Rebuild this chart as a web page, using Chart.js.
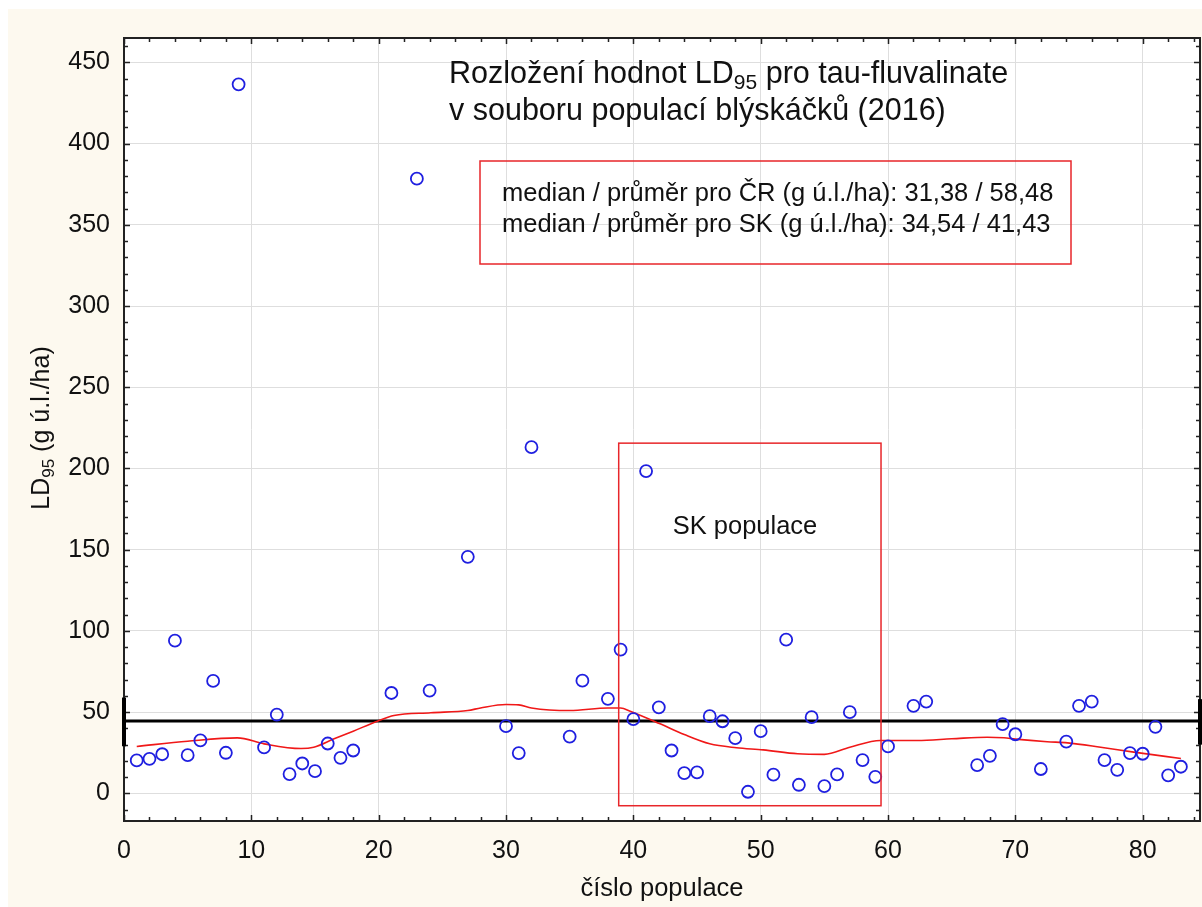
<!DOCTYPE html>
<html>
<head>
<meta charset="utf-8">
<script src="https://cdn.jsdelivr.net/npm/chart.js@4.4.0/dist/chart.umd.min.js"></script>
<style>
  html, body { margin: 0; padding: 0; background: #fff; overflow: hidden; }
  #wrap { position: absolute; left: 8px; top: 9px; width: 1194px; height: 898px; background: #fdf9ef; }
</style>
</head>
<body>
<div id="wrap"><canvas id="chart"></canvas></div>
<script>
// číslo populace / LD95 hodnoty
const populace = [1, 2, 3, 4, 5, 6, 7, 8, 9, 11, 12, 13, 14, 15, 16, 17, 18, 21, 23, 24, 27, 30, 31, 32, 35, 36, 38, 39, 40, 41,
  42, 43, 44, 45, 46, 47, 48, 49, 50, 51, 52, 53, 54, 55, 56, 57, 58, 59, 60, 62, 63, 67, 68, 69, 70, 72, 74, 75, 76, 77,
  78, 79, 80, 81, 82, 83];
const ld95 = [20.3, 21.3, 24.1, 94, 23.5, 32.6, 69.2, 25, 436.5, 28.3, 48.5, 11.9, 18.4, 13.7, 30.7, 21.9, 26.4, 61.8, 378.4, 63.3,
  145.6, 41.4, 24.8, 213.1, 35, 69.4, 58.2, 88.5, 45.7, 198.4, 53, 26.4, 12.5, 12.9, 47.5, 44.4, 34, 1, 38.3, 11.5,
  94.6, 5.3, 46.9, 4.5, 11.7, 50, 20.5, 10.2, 28.9, 53.9, 56.5, 17.4, 23.1, 42.6, 36.4, 15, 31.9, 53.9, 56.5, 20.5,
  14.5, 24.8, 24.4, 41, 11.1, 16.4];

// vyhlazená křivka (červená)
const trendX = [1, 5, 8.9, 11, 13.9, 14.9, 16.5, 18, 19.9, 21.2, 24.1, 27, 28, 30, 31, 32, 35, 38, 39, 39.8, 42.1, 44, 46,
  48.1, 50.2, 52.9, 55, 57, 59.4, 62.3, 65, 67.8, 69.1, 70, 72.5, 74.1, 76.7, 79.3, 83];
const trendY = [28.9, 32.1, 34.2, 30.5, 27.6, 28.4, 33.6, 38.3, 44.4, 47.9, 49.6, 51, 52.6, 54.7, 54.5, 52.6, 51, 52.6, 52.6,
  50.4, 42.8, 36.2, 30.5, 28.1, 26.8, 24.4, 24, 28.4, 32.6, 32.6, 33.6, 34.6, 34.2, 33.4, 31.8, 31.1, 28.4, 25.4, 21.5];

// průměr a rozptyl na okrajích
const prumer = 44.5;
const rozsahLevy = [29, 59];
const rozsahPravy = [30, 58];

// osy
const xRange = [0, 84.5];
const yRange = [-17, 465];
const xTicks = [0, 10, 20, 30, 40, 50, 60, 70, 80];
const yTicks = [0, 50, 100, 150, 200, 250, 300, 350, 400, 450];

// SK populace (obdélník v souřadnicích dat)
const skX = [38.85, 59.45];
const skY = [-7.6, 215.6];

const FONT = '"Liberation Sans", Arial, sans-serif';

/**
 * bílá plocha grafu, rámeček a ticky dovnitř
 */
const framePlugin = {
  id: 'framePlugin',
  beforeDraw(chart) {
    const { ctx, chartArea: a } = chart;
    ctx.save();
    ctx.fillStyle = '#fff';
    ctx.fillRect(a.left, a.top, a.right - a.left, a.bottom - a.top);
    ctx.restore();
  },
  beforeDatasetsDraw(chart) {
    const { ctx, chartArea: a, scales: { x, y } } = chart;
    ctx.save();
    ctx.strokeStyle = '#222';
    ctx.lineWidth = 1.5;
    for (let v = 0; v <= 84; v += 2) {
      const px = Math.round(x.getPixelForValue(v)) + 0.5;
      const len = v % 10 === 0 ? 6 : 4;
      ctx.beginPath();
      ctx.moveTo(px, a.bottom); ctx.lineTo(px, a.bottom - len);
      ctx.moveTo(px, a.top); ctx.lineTo(px, a.top + len);
      ctx.stroke();
    }
    for (let v = -10; v <= 460; v += 10) {
      const py = Math.round(y.getPixelForValue(v)) + 0.5;
      const len = v % 50 === 0 ? 6 : 4;
      ctx.beginPath();
      ctx.moveTo(a.left, py); ctx.lineTo(a.left + len, py);
      ctx.moveTo(a.right, py); ctx.lineTo(a.right - len, py);
      ctx.stroke();
    }
    ctx.lineWidth = 2;
    ctx.strokeRect(a.left, a.top, a.right - a.left, a.bottom - a.top);
    ctx.restore();
  }
};

function drawSub(ctx, parts, x, y, size) {
  // parts: [text, isSub]
  let cx = x;
  parts.forEach(([t, sub]) => {
    ctx.font = (sub ? Math.round(size * 0.68) : size) + 'px ' + FONT;
    ctx.fillText(t, cx, sub ? y + size * 0.28 : y);
    cx += ctx.measureText(t).width;
  });
}

/**
 * nadpis, popisky a červené rámečky
 */
const notesPlugin = {
  id: 'notesPlugin',
  afterDatasetsDraw(chart) {
    const { ctx, scales: { x, y } } = chart;
    ctx.save();
    ctx.fillStyle = '#111';
    ctx.textBaseline = 'middle';
    ctx.textAlign = 'left';

    drawSub(ctx, [['Rozložení hodnot LD', false], ['95', true], [' pro tau-fluvalinate', false]], 441, 66, 30.5);
    drawSub(ctx, [['v souboru populací blýskáčků (2016)', false]], 441, 103, 30.5);

    // rámeček se statistikami
    ctx.strokeStyle = '#e8262a';
    ctx.lineWidth = 1.5;
    ctx.strokeRect(472, 152, 591, 103);
    ctx.font = '25.5px ' + FONT;
    ctx.fillText('median / průměr pro ČR (g ú.l./ha): 31,38 / 58,48', 494, 185);
    ctx.fillText('median / průměr pro SK (g ú.l./ha): 34,54 / 41,43', 494, 216);

    // SK populace
    const l = x.getPixelForValue(skX[0]), r = x.getPixelForValue(skX[1]);
    const t = y.getPixelForValue(skY[1]), b = y.getPixelForValue(skY[0]);
    ctx.strokeRect(l, t, r - l, b - t);
    ctx.font = '25.5px ' + FONT;
    ctx.textAlign = 'center';
    ctx.fillText('SK populace', 737, 518);
    ctx.restore();
  },
  afterDraw(chart) {
    const { ctx } = chart;
    ctx.save();
    ctx.translate(34, 419);
    ctx.rotate(-Math.PI / 2);
    ctx.fillStyle = '#111';
    ctx.textBaseline = 'middle';
    ctx.font = '25px ' + FONT;
    const w = ctx.measureText('LD (g ú.l./ha)').width;
    ctx.font = '17px ' + FONT;
    const w2 = ctx.measureText('95').width;
    drawSub(ctx, [['LD', false], ['95', true], [' (g ú.l./ha)', false]], -(w + w2) / 2, 0, 25);
    ctx.restore();
  }
};

new Chart(document.getElementById('chart'), {
  type: 'scatter',
  data: {
    datasets: [
      {
        label: 'LD95',
        data: populace.map((p, i) => ({ x: p, y: ld95[i] })),
        pointStyle: 'circle',
        pointRadius: 6,
        borderColor: '#1f1fe0',
        backgroundColor: 'rgba(0,0,0,0)',
        borderWidth: 1.8,
        order: 1
      },
      {
        type: 'line',
        label: 'trend',
        data: trendX.map((p, i) => ({ x: p, y: trendY[i] })),
        borderColor: '#f01818',
        borderWidth: 1.6,
        pointRadius: 0,
        cubicInterpolationMode: 'monotone',
        order: 2
      },
      {
        type: 'line',
        label: 'průměr',
        data: [{ x: xRange[0], y: prumer }, { x: xRange[1], y: prumer }],
        borderColor: '#000',
        borderWidth: 3,
        pointRadius: 0,
        order: 3
      },
      {
        type: 'line',
        label: 'rozsah L',
        data: rozsahLevy.map(v => ({ x: xRange[0], y: v })),
        borderColor: '#000',
        borderWidth: 4,
        pointRadius: 0,
        clip: false,
        order: 3
      },
      {
        type: 'line',
        label: 'rozsah P',
        data: rozsahPravy.map(v => ({ x: xRange[1], y: v })),
        borderColor: '#000',
        borderWidth: 4,
        pointRadius: 0,
        clip: false,
        order: 3
      }
    ]
  },
  options: {
    responsive: true,
    maintainAspectRatio: false,
    animation: false,
    layout: { autoPadding: false, padding: { top: 28, right: 2, left: 0, bottom: 0 } },
    plugins: {
      legend: { display: false },
      tooltip: { enabled: false }
    },
    scales: {
      x: {
        type: 'linear',
        min: xRange[0],
        max: xRange[1],
        afterBuildTicks: s => { s.ticks = xTicks.map(v => ({ value: v })); },
        afterFit: s => { s.height = 86; s.paddingLeft = 0; s.paddingRight = 0; },
        grid: { color: '#dedede', lineWidth: 1, drawTicks: false },
        border: { display: false },
        ticks: { color: '#111', padding: 15, font: { family: FONT, size: 25 } },
        title: {
          display: true,
          text: 'číslo populace',
          color: '#111',
          padding: { top: 0, bottom: 3 },
          font: { family: FONT, size: 25.5 }
        }
      },
      y: {
        type: 'linear',
        min: yRange[0],
        max: yRange[1],
        afterBuildTicks: s => { s.ticks = yTicks.map(v => ({ value: v })); },
        afterFit: s => { s.width = 116; },
        grid: { color: '#dedede', lineWidth: 1, drawTicks: false },
        border: { display: false },
        ticks: { color: '#111', padding: 14, font: { family: FONT, size: 25 } }
      }
    }
  },
  plugins: [framePlugin, notesPlugin]
});
</script>
</body>
</html>
